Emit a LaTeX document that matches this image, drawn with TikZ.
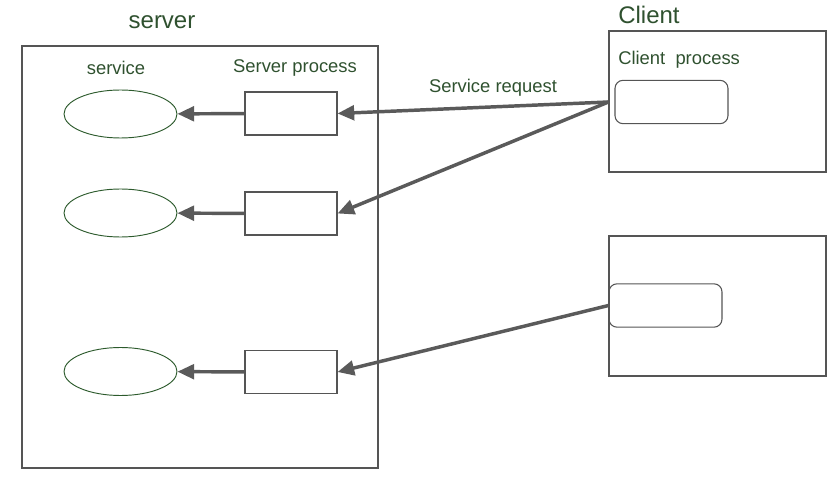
\documentclass[tikz,border=0pt]{standalone}
\usepackage{fontspec}
\setmainfont{Liberation Sans}
\usepackage{tikz}
\usetikzlibrary{arrows.meta}
\usetikzlibrary{shapes.geometric}
\definecolor{labelgreen}{HTML}{2F512F}
\definecolor{ovalgreen}{HTML}{2C5A2C}
\definecolor{edgegray}{HTML}{555555}
\definecolor{arrowgray}{HTML}{5A5A5A}
\tikzset{
  frame/.style={draw=edgegray, line width=0.8pt, inner sep=0pt},
  procbox/.style={draw=edgegray, line width=0.8pt, inner sep=0pt, minimum width=69pt, minimum height=32.25pt},
  clientproc/.style={procbox, rounded corners=6pt, minimum width=84.75pt, minimum height=32.5pt},
  serviceoval/.style={draw=ovalgreen, ellipse, line width=0.7pt, inner sep=0pt, minimum width=84.75pt, minimum height=36pt},
  bigtxt/.style={text=labelgreen, font=\fontsize{18}{20}\selectfont, inner sep=0pt},
  smalltxt/.style={text=labelgreen, font=\fontsize{13.8}{16}\selectfont, inner sep=0pt},
  request/.style={draw=arrowgray, line width=2.6pt, -{Triangle[length=12.5pt,width=11pt]}}
}
\begin{document}
\begin{tikzpicture}[x=0.75pt, y=-0.75pt]
        \useasboundingbox (0,0) rectangle (840,481);
        % server side
        \node[frame, minimum width=267pt, minimum height=316.5pt] (srv) at (200,257) {};
        \node[bigtxt] (srvlabel) at (162,22) {server};
        \node[smalltxt] (svclabel) at (116,68) {service};
        \node[smalltxt] (proclabel) at (295,68) {Server process};
        % row 1
        \node[serviceoval] (svc1) at (120.5,114) {};
        \node[procbox] (sp1) at (291,113.5) {};
        % row 2
        \node[serviceoval] (svc2) at (120.5,213) {};
        \node[procbox] (sp2) at (291,213.5) {};
        % row 3
        \node[serviceoval] (svc3) at (120.5,371.5) {};
        \node[procbox] (sp3) at (291,372) {};
        % client side
        \node[frame, minimum width=162.75pt, minimum height=105.75pt] (cl1) at (717.5,101.5) {};
        \node[bigtxt, anchor=west] (cllabel) at (618,15) {Client};
        \node[smalltxt, anchor=west] (cplabel) at (618,60) {Client\ \ process};
        \node[clientproc] (cp1) at (671.5,102) {};
        \node[frame, minimum width=162.75pt, minimum height=105pt] (cl2) at (717.5,306) {};
        \node[clientproc] (cp2) at (665.5,305.5) {};
        \coordinate (req) at (cl1.west |- cp1.west);
        \node[smalltxt] (reqlabel) at (493,88) {Service request};
        % arrows
        \draw[request] (sp1) -- (svc1);
        \draw[request] (sp2) -- (svc2);
        \draw[request] (sp3) -- (svc3);
        \draw[request] (req) -- (sp1.east);
        \draw[request] (req) -- (sp2.east);
        \draw[request] (cp2.west) -- (sp3.east);
    \end{tikzpicture}
\end{document}
